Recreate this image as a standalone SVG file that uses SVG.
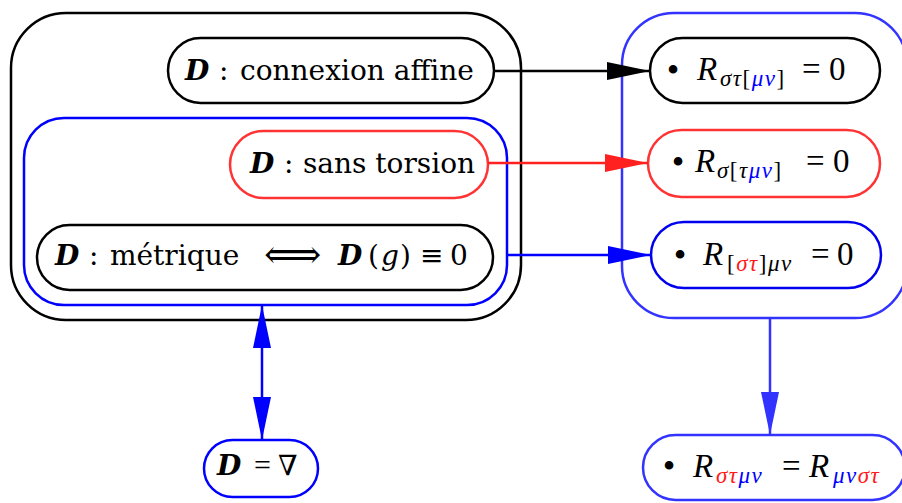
<svg xmlns="http://www.w3.org/2000/svg" width="902" height="503" viewBox="0 0 902 503">
<style>
.t{font-family:"DejaVu Serif","Liberation Serif",serif;font-size:28px;fill:#000}
.m{font-family:"Liberation Serif","DejaVu Serif",serif;font-size:33px;fill:#000}
.l{font-family:"Liberation Serif","DejaVu Serif",serif;font-size:30px}
.i{font-style:italic}
.bi{font-weight:bold;font-style:italic}
.s{font-size:23px;font-style:italic;letter-spacing:1.5px}
.n{font-style:normal}
.dot{font-size:36px}
.bl{fill:#0000ff}
.rd{fill:#ff1a1a}
.box{fill:none;stroke-width:2.5}
.ln{fill:none;stroke-width:2.5}
</style>
<defs>
<marker id="hk" markerUnits="userSpaceOnUse" markerWidth="44" markerHeight="20" refX="43" refY="10" orient="auto-start-reverse"><path d="M0,1 L43,10 L0,19 Z" fill="#000"/></marker>
<marker id="hr" markerUnits="userSpaceOnUse" markerWidth="44" markerHeight="20" refX="43" refY="10" orient="auto-start-reverse"><path d="M0,1 L43,10 L0,19 Z" fill="#ff2020"/></marker>
<marker id="hb" markerUnits="userSpaceOnUse" markerWidth="44" markerHeight="20" refX="43" refY="10" orient="auto-start-reverse"><path d="M0,1 L43,10 L0,19 Z" fill="#0000ff"/></marker>
<marker id="hl" markerUnits="userSpaceOnUse" markerWidth="44" markerHeight="20" refX="43" refY="10" orient="auto-start-reverse"><path d="M0,1 L43,10 L0,19 Z" fill="#3333ff"/></marker>
</defs>

<g id="outer-left">
<rect class="box" x="11" y="13" width="510" height="307" rx="55" stroke="#000"/>
</g>
<g id="inner-blue">
<rect class="box" x="24" y="118" width="483" height="187" rx="40" stroke="#0000ff"/>
</g>
<g id="outer-right">
<rect class="box" x="622" y="13" width="285" height="305" rx="52" stroke="#3333ff"/>
</g>

<g id="n-affine">
<rect class="box" x="168" y="38" width="326" height="65" rx="32.5" stroke="#000"/>
<text class="t" y="80"><tspan class="bi" x="185">D</tspan><tspan x="219">:</tspan><tspan x="240">connexion affine</tspan></text>
</g>
<g id="n-torsion">
<rect class="box" x="230" y="131" width="258" height="67" rx="33.5" stroke="#ff3333"/>
<text class="t" y="173"><tspan class="bi" x="250">D</tspan><tspan x="284">:</tspan><tspan x="303">sans torsion</tspan></text>
</g>
<g id="n-metrique">
<rect class="box" x="37" y="225" width="456" height="65" rx="32.5" stroke="#000"/>
<text class="t" y="265"><tspan class="bi" x="55">D</tspan><tspan x="89">:</tspan><tspan x="110">métrique</tspan><tspan x="264" y="268" font-size="40" font-weight="normal">⟺</tspan><tspan class="bi" x="338" y="265">D</tspan><tspan x="368">(</tspan><tspan class="i" x="381">g</tspan><tspan x="400">)</tspan><tspan x="420">≡</tspan><tspan x="450">0</tspan></text>
</g>
<g id="n-nabla">
<rect class="box" x="204" y="440" width="114" height="57" rx="28.5" stroke="#0000ff"/>
<text class="t" y="475"><tspan class="bi" x="217">D</tspan><tspan class="l" x="254">=</tspan><tspan x="278">∇</tspan></text>
</g>

<g id="r1">
<rect class="box" x="650" y="38" width="230" height="65" rx="32.5" stroke="#000"/>
<text class="m"><tspan class="dot" x="673" y="82" text-anchor="middle">•</tspan><tspan class="i" x="697" y="80">R</tspan><tspan class="s" x="720" y="86">στ<tspan class="n">[</tspan><tspan class="bl">μν</tspan><tspan class="n">]</tspan></tspan><tspan x="802" y="80">=</tspan><tspan x="829" y="80">0</tspan></text>
</g>
<g id="r2">
<rect class="box" x="648" y="130" width="232" height="67" rx="33.5" stroke="#ff3333"/>
<text class="m"><tspan class="dot" x="678" y="174" text-anchor="middle">•</tspan><tspan class="i" x="695" y="172">R</tspan><tspan class="s" x="717" y="178">σ<tspan class="n">[</tspan>τ<tspan class="bl">μν</tspan><tspan class="n">]</tspan></tspan><tspan x="806" y="172">=</tspan><tspan x="833" y="172">0</tspan></text>
</g>
<g id="r3">
<rect class="box" x="651" y="222" width="230" height="66" rx="33" stroke="#0000ee"/>
<text class="m"><tspan class="dot" x="680" y="267" text-anchor="middle">•</tspan><tspan class="i" x="703" y="265">R</tspan><tspan class="s" x="727" y="271"><tspan class="n">[</tspan><tspan class="rd">στ</tspan><tspan class="n">]</tspan>μν</tspan><tspan x="811" y="265">=</tspan><tspan x="837" y="265">0</tspan></text>
</g>
<g id="r4">
<rect class="box" x="643" y="435" width="262" height="65" rx="32.5" stroke="#3333ff"/>
<text class="m"><tspan class="dot" x="669" y="478" text-anchor="middle">•</tspan><tspan class="i" x="693" y="477">R</tspan><tspan class="s" x="716" y="483"><tspan class="rd">στ</tspan><tspan class="bl">μν</tspan></tspan><tspan x="782" y="477">=</tspan><tspan class="i" x="809" y="477">R</tspan><tspan class="s" x="833" y="483"><tspan class="bl">μν</tspan><tspan class="rd">στ</tspan></tspan></text>
</g>

<g id="connectors">
<line class="ln" x1="494" y1="71" x2="650" y2="71" stroke="#000" marker-end="url(#hk)"/>
<line class="ln" x1="488" y1="163" x2="648" y2="163" stroke="#ff2020" marker-end="url(#hr)"/>
<line class="ln" x1="507" y1="255" x2="651" y2="255" stroke="#0000ff" marker-end="url(#hb)"/>
<line class="ln" x1="262" y1="305" x2="262" y2="440" stroke="#0000ff" marker-start="url(#hb)" marker-end="url(#hb)"/>
<line class="ln" x1="770" y1="318" x2="770" y2="435" stroke="#3333ff" marker-end="url(#hl)"/>
</g>
</svg>
